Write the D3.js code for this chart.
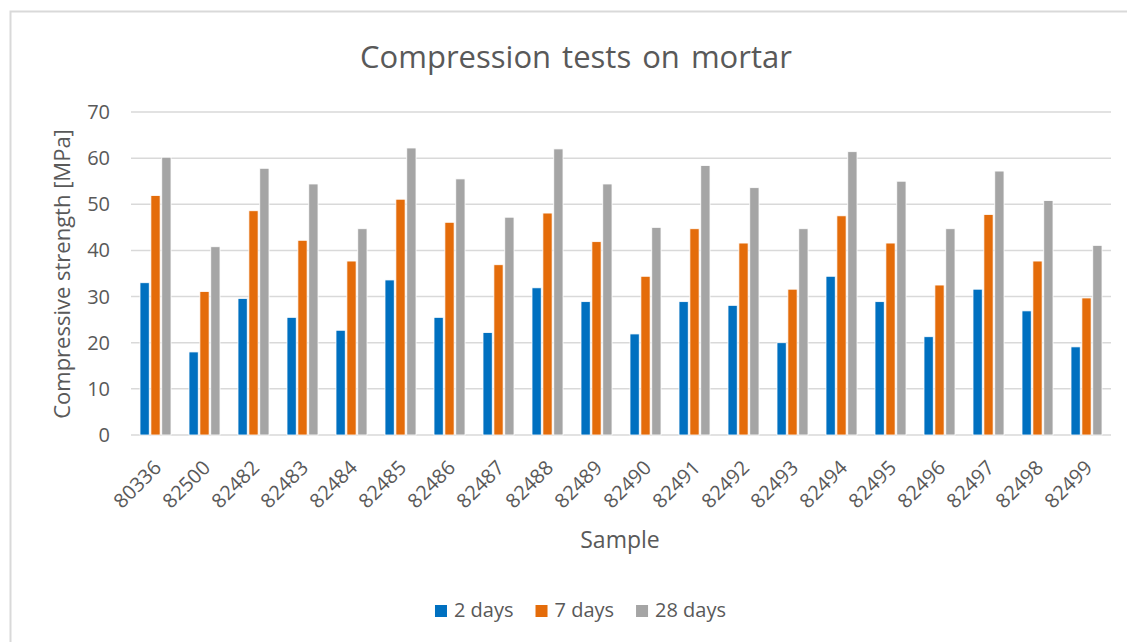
<!DOCTYPE html>
<html>
<head>
<meta charset="utf-8">
<script src="https://cdn.jsdelivr.net/npm/d3@7"></script>
<style>
  body { margin: 0; background: #ffffff; }
  svg { display: block; font-family: 'Open Sans', sans-serif; }
</style>
</head>
<body>
<div id="chart"></div>
<script>
//
//    Chart data
//
const samples = ['80336', '82500', '82482', '82483', '82484', '82485', '82486', '82487', '82488', '82489',
  '82490', '82491', '82492', '82493', '82494', '82495', '82496', '82497', '82498', '82499']
const seriesNames = ['2 days', '7 days', '28 days']
const days2 = [33.0, 18.0, 29.6, 25.5, 22.7, 33.6, 25.5, 22.2, 31.9, 28.9,
  21.9, 28.9, 28.1, 20.0, 34.4, 28.9, 21.3, 31.6, 26.9, 19.1]
const days7 = [51.9, 31.1, 48.6, 42.2, 37.7, 51.1, 46.1, 36.9, 48.1, 41.9,
  34.4, 44.7, 41.6, 31.6, 47.5, 41.6, 32.5, 47.8, 37.7, 29.7]
const days28 = [60.2, 40.8, 57.8, 54.4, 44.7, 62.2, 55.5, 47.2, 62.0, 54.4,
  45.0, 58.4, 53.6, 44.7, 61.4, 55.0, 44.7, 57.2, 50.8, 41.1]
const yTicks = [0, 10, 20, 30, 40, 50, 60, 70]
const colours = ['#0070c0', '#e46c0a', '#a5a5a5']

const width = 1127
const height = 642
const margin = { left: 131, right: 16, top: 112, bottom: 207 }
const textColour = '#595959'
const gridColour = '#d9d9d9'

const svg = d3.select('#chart').append('svg')
  .attr('width', width)
  .attr('height', height)

// chart frame (only top and left edges show in the crop)
svg.append('path')
  .attr('d', `M10.5,${height} L10.5,11.5 L${width},11.5`)
  .attr('fill', 'none')
  .attr('stroke', gridColour)
  .attr('stroke-width', 2)

const x0 = d3.scaleBand()
  .domain(samples)
  .range([margin.left, width - margin.right])
  .paddingInner(0.367)
  .paddingOuter(0.1835)

const x1 = d3.scaleBand()
  .domain(seriesNames)
  .range([0, x0.bandwidth()])
  .paddingInner(0.15)

const y = d3.scaleLinear()
  .domain([0, 70])
  .range([height - margin.bottom, margin.top])

// gridlines
svg.append('g')
  .selectAll('line')
  .data(yTicks)
  .join('line')
    .attr('x1', margin.left)
    .attr('x2', width - margin.right)
    .attr('y1', d => y(d))
    .attr('y2', d => y(d))
    .attr('stroke', gridColour)
    .attr('stroke-width', 1.5)

// y tick labels
svg.append('g')
  .selectAll('text')
  .data(yTicks)
  .join('text')
    .attr('x', margin.left - 21)
    .attr('y', d => y(d))
    .attr('dy', '0.35em')
    .attr('text-anchor', 'end')
    .attr('fill', textColour)
    .style('font-size', '20px')
    .text(d => d)

// bars
const rows = samples.map((s, i) => ({ sample: s, values: [days2[i], days7[i], days28[i]] }))

const groups = svg.append('g')
  .selectAll('g')
  .data(rows)
  .join('g')
    .attr('transform', d => `translate(${x0(d.sample)},0)`)

groups.selectAll('rect')
  .data(d => d.values.map((v, j) => ({ key: seriesNames[j], value: v, colour: colours[j] })))
  .join('rect')
    .attr('x', d => x1(d.key))
    .attr('width', x1.bandwidth())
    .attr('y', d => y(d.value))
    .attr('height', d => y(0) - y(d.value))
    .attr('fill', d => d.colour)
    .attr('stroke', '#ffffff')
    .attr('stroke-width', 0.8)

// x tick labels, rotated
svg.append('g')
  .selectAll('text')
  .data(samples)
  .join('text')
    .attr('transform', d => `translate(${x0(d) + x0.bandwidth() / 2 + 7},469) rotate(-45)`)
    .attr('text-anchor', 'end')
    .attr('fill', textColour)
    .style('font-size', '20px')
    .text(d => d)

// titles
svg.append('text')
  .attr('x', 576)
  .attr('y', 68)
  .attr('text-anchor', 'middle')
  .attr('fill', textColour)
  .style('font-size', '31px')
  .style('word-spacing', '3px')
  .text('Compression tests on mortar')

svg.append('text')
  .attr('transform', 'translate(70,274) rotate(-90)')
  .attr('text-anchor', 'middle')
  .attr('fill', textColour)
  .style('font-size', '22px')
  .text('Compressive strength [MPa]')

svg.append('text')
  .attr('x', 620)
  .attr('y', 548)
  .attr('text-anchor', 'middle')
  .attr('fill', textColour)
  .style('font-size', '23px')
  .text('Sample')

// legend
const legend = svg.append('g')
const items = legend.selectAll('g')
  .data(seriesNames)
  .join('g')

items.append('rect')
  .attr('width', 12)
  .attr('height', 12)
  .attr('y', -12)
  .attr('fill', (d, i) => colours[i])

items.append('text')
  .attr('x', 19)
  .attr('fill', textColour)
  .style('font-size', '20px')
  .text(d => d)

let offset = 0
items.each(function () {
  const g = d3.select(this)
  g.attr('transform', `translate(${offset},0)`)
  offset += 19 + g.select('text').node().getComputedTextLength() + 22
})
const legendWidth = offset - 22
legend.attr('transform', `translate(${580.5 - legendWidth / 2},617)`)
</script>
</body>
</html>
